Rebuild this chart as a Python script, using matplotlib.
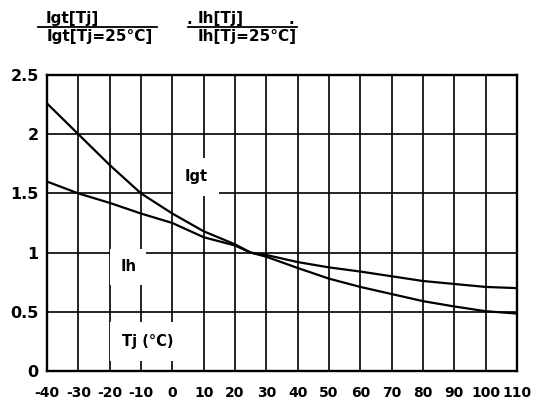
import matplotlib
matplotlib.use('Agg')
import matplotlib.pyplot as plt
from matplotlib.lines import Line2D

# temperatura de union (°C) y valores normalizados
tj = [-40, -30, -20, -10, 0, 10, 20, 25, 30, 40, 50, 60, 70, 80, 90, 100, 110]
igt = [2.26, 2.0, 1.74, 1.5, 1.33, 1.18, 1.07, 1.0, 0.965, 0.87, 0.78, 0.71,
       0.65, 0.59, 0.545, 0.505, 0.485]
ih = [1.6, 1.5, 1.42, 1.33, 1.25, 1.13, 1.06, 1.0, 0.98, 0.92, 0.875, 0.84,
      0.80, 0.76, 0.735, 0.71, 0.70]

x_ticks = list(range(-40, 111, 10))
y_ticks = [0, 0.5, 1, 1.5, 2, 2.5]
y_labels = ['0', '0.5', '1', '1.5', '2', '2.5']

plt.rcParams['font.family'] = 'DejaVu Sans'
plt.rcParams['font.weight'] = 'bold'

fig = plt.figure(figsize=(5.39, 4), dpi=100)
ax = fig.add_axes([47 / 539, 29 / 400, 470 / 539, 296 / 400])

ax.plot(tj, igt, color='black', lw=1.6, zorder=4)
ax.plot(tj, ih, color='black', lw=1.6, zorder=4)

ax.set_xlim(-40, 110)
ax.set_ylim(0, 2.5)
ax.set_xticks(x_ticks)
ax.set_xticklabels([str(v) for v in x_ticks], fontsize=10, fontweight='bold')
ax.set_yticks(y_ticks)
ax.set_yticklabels(y_labels, fontsize=11.5, fontweight='bold')
ax.tick_params(length=0)
ax.tick_params(axis='x', pad=11)
ax.tick_params(axis='y', pad=6)
ax.set_axisbelow(True)
ax.grid(True, color='black', lw=1.2)
for s in ax.spines.values():
    s.set_linewidth(1.7)

# etiquetas dentro de la grafica (con fondo blanco que corta la rejilla)
ax.text(7.6, 1.64, 'Igt', fontsize=10.5, fontweight='bold', ha='center', va='center',
        bbox=dict(boxstyle='square,pad=0.8', facecolor='white', edgecolor='none'), zorder=3)
ax.text(-14.1, 0.88, 'Ih', fontsize=10.5, fontweight='bold', ha='center', va='center',
        bbox=dict(boxstyle='square,pad=0.7', facecolor='white', edgecolor='none'), zorder=3)
ax.text(-7.8, 0.25, 'Tj (°C)', fontsize=10.5, fontweight='bold', ha='center', va='center',
        bbox=dict(boxstyle='square,pad=0.85', facecolor='white', edgecolor='none'), zorder=3)

# cocientes en la parte superior
fig.text(72 / 539, 1 - 18 / 400, 'Igt[Tj]', fontsize=11, fontweight='bold', ha='center', va='center')
fig.text(100 / 539, 1 - 37 / 400, 'Igt[Tj=25°C]', fontsize=11, fontweight='bold', ha='center', va='center')
fig.add_artist(Line2D([38 / 539, 157 / 539], [1 - 27 / 400, 1 - 27 / 400], color='black', lw=1.3))

fig.text(221 / 539, 1 - 18 / 400, 'Ih[Tj]', fontsize=11, fontweight='bold', ha='center', va='center')
fig.text(189 / 539, 1 - 20 / 400, '.', fontsize=11, fontweight='bold', ha='center', va='center')
fig.text(291 / 539, 1 - 20 / 400, '.', fontsize=11, fontweight='bold', ha='center', va='center')
fig.text(247 / 539, 1 - 37 / 400, 'Ih[Tj=25°C]', fontsize=11, fontweight='bold', ha='center', va='center')
fig.add_artist(Line2D([188 / 539, 297 / 539], [1 - 27 / 400, 1 - 27 / 400], color='black', lw=1.3))

fig.savefig('out.png', dpi=100)
